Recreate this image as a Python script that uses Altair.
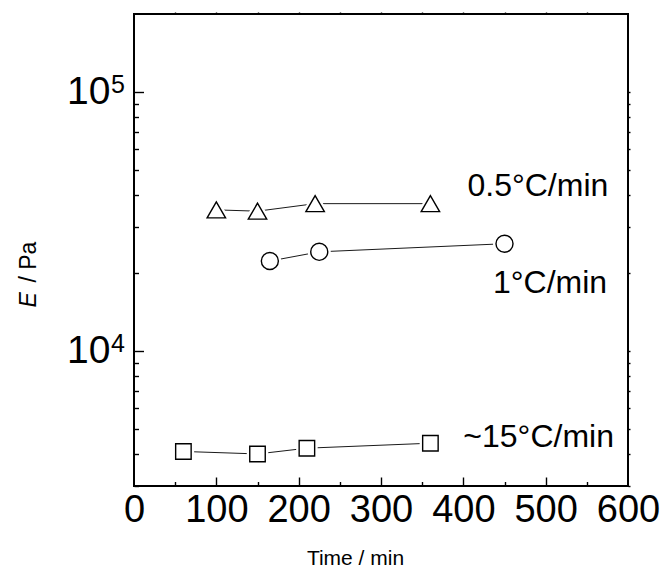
import altair as alt
import pandas as pd

# Storage modulus E' against time for three cooling rates
time_05 = [100, 150, 220, 360]
mod_05 = [35000, 34600, 37000, 37000]
time_1 = [165, 225, 450]
mod_1 = [22200, 24100, 25900]
time_15 = [60, 150, 210, 360]
mod_15 = [4080, 3990, 4200, 4390]

rates = ["0.5°C/min", "1°C/min", "~15°C/min"]
shapes = ["triangle-up", "circle", "square"]
marker_sizes = [340, 240, 190]

# caption anchors for each rate, in data units (time, modulus)
label_time = [405, 436, 400]
label_mod = [39500, 16700, 4260]

x_major = [0, 100, 200, 300, 400, 500, 600]
x_minor = [50, 150, 250, 350, 450, 550]
y_major = [1e4, 1e5]
y_exponents = ["4", "5"]
y_minor = [3000, 4000, 5000, 6000, 7000, 8000, 9000,
           20000, 30000, 40000, 50000, 60000, 70000, 80000, 90000]

FONT = "Liberation Sans"
W, H = 494, 472

rows = []
for rate, ts, ms in zip(rates, [time_05, time_1, time_15], [mod_05, mod_1, mod_15]):
    for t, m in zip(ts, ms):
        rows.append({"rate": rate, "time": t, "modulus": m})
points = pd.DataFrame(rows)
labels = pd.DataFrame({"rate": rates, "time": label_time, "modulus": label_mod})
powers = pd.DataFrame({"modulus": y_major, "exp": y_exponents})

xs = alt.Scale(domain=[0, 600], nice=False, zero=False)
ys = alt.Scale(type="log", domain=[3000, 200000], nice=False)
shape_scale = alt.Scale(domain=rates, range=shapes)
size_scale = alt.Scale(domain=rates, range=marker_sizes)

common = dict(grid=False, domain=False, tickColor="black", labelColor="black",
              titleColor="black", labelFont=FONT, titleFont=FONT)


def tick_axis(orient, values, size, offset=0, **kw):
    return alt.Axis(orient=orient, values=values, tickSize=size, tickWidth=1.4,
                    labels=False, offset=offset, **{**common, **kw})


x_label_axis = alt.Axis(
    orient="bottom", values=x_major, ticks=False, labelFontSize=38, labelPadding=5,
    labelFlush=False, title="Time / min", titleFontSize=21, titleFontWeight="normal",
    titleX=221, titleY=78, titleAlign="center", titleBaseline="alphabetic", **common)
y_label_axis = alt.Axis(
    orient="left", values=y_major, ticks=False, labelFontSize=39, labelPadding=24,
    labelExpr="'10'",
    title="E", titleFontStyle="italic", titleFontWeight="normal", titleFontSize=23,
    titleAngle=270, titleAlign="left", titleBaseline="alphabetic",
    titleX=-99, titleY=293, **common)


def axis_layer(x_axis, y_axis):
    return alt.Chart(labels).mark_point(opacity=0).encode(
        x=alt.X("time:Q", scale=xs, axis=x_axis),
        y=alt.Y("modulus:Q", scale=ys, axis=y_axis),
    )


# frame labels, inward ticks on the bottom/left edges, small outer ticks on top/right
ax0 = axis_layer(x_label_axis, y_label_axis)
ax1 = axis_layer(tick_axis("top", x_major[1:-1], 9, offset=-H, title=None),
                 tick_axis("right", y_major, 9.5, offset=-W, title=None))
ax2 = axis_layer(tick_axis("top", x_minor, 4.5, offset=-H, title=None),
                 tick_axis("right", y_minor, 4.5, offset=-W, title="/ Pa",
                           titleFontSize=23, titleFontWeight="normal", titleAngle=270,
                           titleAlign="left", titleBaseline="alphabetic",
                           titleX=-99, titleY=268))
ax3 = axis_layer(tick_axis("top", list(range(50, 600, 50)), 2, title=None),
                 tick_axis("right", y_minor + y_major, 2, title=None))

enc = dict(
    x=alt.X("time:Q", scale=xs, axis=None),
    y=alt.Y("modulus:Q", scale=ys, axis=None),
)

# exponents of the decade labels on the left axis
exps = alt.Chart(powers).mark_text(
    font=FONT, fontSize=25, align="right", baseline="alphabetic", color="black",
    dx=-9, dy=1
).encode(
    x=alt.XDatum(0, scale=xs, axis=None),
    y=alt.Y("modulus:Q", scale=ys, axis=None),
    text="exp:N",
)

lines = alt.Chart(points).mark_line(color="#1a1a1a", strokeWidth=1).encode(
    detail="rate:N", **enc)

halo = alt.Chart(points).mark_point(
    filled=False, fill="white", fillOpacity=1, stroke="white", strokeWidth=6, opacity=1
).encode(
    shape=alt.Shape("rate:N", scale=shape_scale, legend=None),
    size=alt.Size("rate:O", scale=size_scale, legend=None),
    **enc)

markers = alt.Chart(points).mark_point(
    filled=False, fill="white", fillOpacity=1, stroke="black", strokeWidth=1.4, opacity=1
).encode(
    shape=alt.Shape("rate:N", scale=shape_scale, legend=None),
    size=alt.Size("rate:O", scale=size_scale, legend=None),
    **enc)

captions = alt.Chart(labels).mark_text(
    font=FONT, fontSize=32, align="left", baseline="alphabetic", color="black"
).encode(text="rate:N", **enc)

chart = alt.layer(ax0, ax1, ax2, ax3, exps, lines, halo, markers, captions).properties(
    width=W, height=H, background="white",
    padding={"left": 134, "top": 14, "right": 34, "bottom": 84},
    autosize=alt.AutoSizeParams(type="none"),
).configure_view(stroke="black", strokeWidth=2)

chart.save("out.html", embed_options={"renderer": "svg", "actions": False})
